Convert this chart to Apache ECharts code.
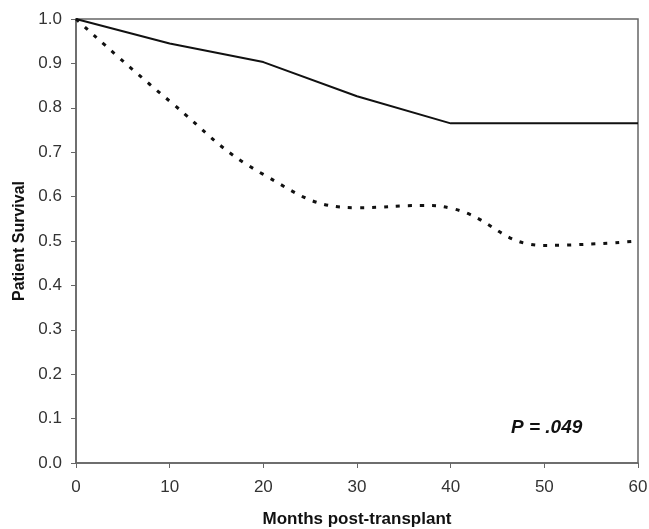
<!DOCTYPE html>
<html>
<head>
<meta charset="utf-8">
<title>Patient Survival</title>
<script src="https://cdn.jsdelivr.net/npm/echarts@6/dist/echarts.min.js"></script>
<style>
  html, body { margin: 0; padding: 0; background: #fff; }
  #chart { width: 649px; height: 529px; }
</style>
</head>
<body>
<div id="chart"></div>
<script>
// solid curve: months post-transplant and survival
var monthsSolid = [0, 10, 20, 30, 40, 50, 60];
var survivalSolid = [1.0, 0.945, 0.903, 0.826, 0.765, 0.765, 0.765];
// dotted curve
var monthsDotted = [0, 10, 20, 30, 37, 40, 50, 60];
var survivalDotted = [1.0, 0.815, 0.65, 0.575, 0.58, 0.574, 0.49, 0.50];

var pText = 'P = .049';

function pairs(xs, ys) {
    var out = [];
    for (var i = 0; i < xs.length; i++) {
        out.push([xs[i], ys[i]]);
    }
    return out;
}

var chart = echarts.init(document.getElementById('chart'));

chart.setOption({
    animation: false,
    textStyle: { fontFamily: 'Liberation Sans, Arial, sans-serif' },
    grid: {
        left: 76,
        right: 11,
        top: 19,
        bottom: 66,
        outerBoundsMode: 'none',
        containLabel: false,
        show: true,
        borderColor: '#666',
        borderWidth: 1.5
    },
    xAxis: {
        type: 'value',
        min: 0,
        max: 60,
        interval: 10,
        name: 'Months post-transplant',
        nameLocation: 'middle',
        nameGap: 48,
        nameTextStyle: { fontWeight: 'bold', fontSize: 17, color: '#111' },
        axisLine: { lineStyle: { color: '#666', width: 1.5 } },
        axisTick: { show: true, length: 5, lineStyle: { color: '#666' } },
        axisLabel: { fontSize: 17, color: '#333', margin: 16 },
        splitLine: { show: false }
    },
    yAxis: {
        type: 'value',
        min: 0,
        max: 1,
        interval: 0.1,
        name: 'Patient Survival',
        nameLocation: 'middle',
        nameGap: 47,
        nameTextStyle: { fontWeight: 'bold', fontSize: 16, color: '#111' },
        axisLine: { show: true, lineStyle: { color: '#666', width: 1.5 } },
        axisTick: { show: true, length: 5, lineStyle: { color: '#666' } },
        axisLabel: {
            fontSize: 17,
            color: '#333',
            margin: 14,
            formatter: function (v) { return v.toFixed(1); }
        },
        splitLine: { show: false }
    },
    graphic: [{
        type: 'text',
        left: 511,
        top: 418,
        style: {
            text: pText,
            font: 'italic bold 19px Liberation Sans, Arial, sans-serif',
            fill: '#111'
        }
    }],
    series: [
        {
            name: 'solid',
            type: 'line',
            data: pairs(monthsSolid, survivalSolid),
            showSymbol: false,
            smooth: false,
            lineStyle: { color: '#111', width: 2, type: 'solid' }
        },
        {
            name: 'dotted',
            type: 'line',
            data: pairs(monthsDotted, survivalDotted),
            showSymbol: false,
            smooth: 0.45,
            lineStyle: { color: '#111', width: 3, type: [4, 8] }
        }
    ]
});
</script>
</body>
</html>
